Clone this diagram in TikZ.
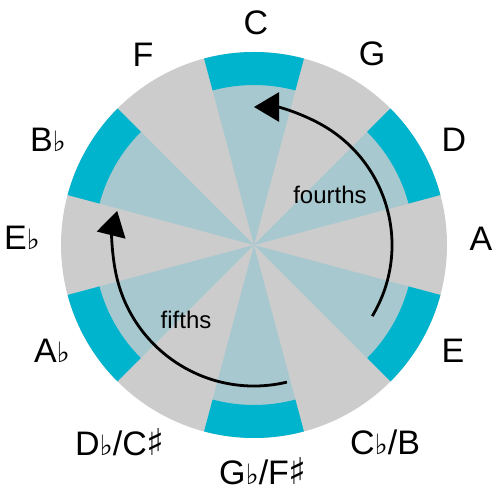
\documentclass[tikz,border=0pt]{standalone}
\usepackage{fontspec}
\setmainfont{Liberation Sans}
\newfontfamily\symfont{DejaVu Sans}
\usetikzlibrary{arrows.meta}
\definecolor{sgray}{HTML}{CCCCCC}
\definecolor{slight}{HTML}{A7C8CE}
\definecolor{scyan}{HTML}{00B4CD}
\newcommand{\flt}{{\symfont\fontsize{28}{28}\selectfont ♭}}
\newcommand{\shp}{{\symfont\fontsize{37}{37}\selectfont ♯}}
\tikzset{
  keylabel/.style={anchor=base, inner sep=0pt, font=\fontsize{34}{36}\selectfont},
  arclabel/.style={anchor=base, inner sep=0pt, font=\fontsize{24}{26}\selectfont},
  turnarrow/.style={line width=2.8pt, -{Triangle[length=25pt,width=29pt]}}
}
\begin{document}
\begin{tikzpicture}[x=1pt,y=1pt]
\useasboundingbox (0,0) rectangle (500,500);
\coordinate (O) at (254,255);
\begin{scope}[shift={(254,255)}]
  \fill[sgray] (0,0) circle[radius=193];
  \foreach \a in {90,30,-30,-90,-150,150} {
    \fill[slight] (0,0) -- (\a-15:160.5) arc[start angle=\a-15, end angle=\a+15, radius=160.5] -- cycle;
    \fill[scyan] (\a-15:193) arc[start angle=\a-15, end angle=\a+15, radius=193]
      -- (\a+15:160) arc[start angle=\a+15, end angle=\a-15, radius=160] -- cycle;
  }
  \coordinate (fourS) at (-31:138);
  \coordinate (fifthS) at (-76.5:141);
\end{scope}
\draw[turnarrow] (fourS) arc[start angle=-31, end angle=90, radius=138];
\draw[turnarrow] (fifthS) arc[start angle=-76.5, end angle=-194, radius=141];

\node[arclabel] (fourths) at (330,296) {fourths};
\node[arclabel] (fifths) at (186,171) {fifths};

\node[keylabel] (kC) at (256,465) {C};
\node[keylabel] (kG) at (372,434) {G};
\node[keylabel] (kD) at (454,348) {D};
\node[keylabel] (kA) at (481,249) {A};
\node[keylabel] (kE) at (453,137) {E};
\node[keylabel] (kB) at (385,45) {C\flt/B};
\node[keylabel] (kGb) at (263,15) {G\flt/F\shp};
\node[keylabel] (kDb) at (120,44) {D\flt/C\shp};
\node[keylabel] (kAb) at (52,137) {A\flt};
\node[keylabel] (kEb) at (22,250) {E\flt};
\node[keylabel] (kBb) at (48,348) {B\flt};
\node[keylabel] (kF) at (143,433) {F};
\end{tikzpicture}
\end{document}
